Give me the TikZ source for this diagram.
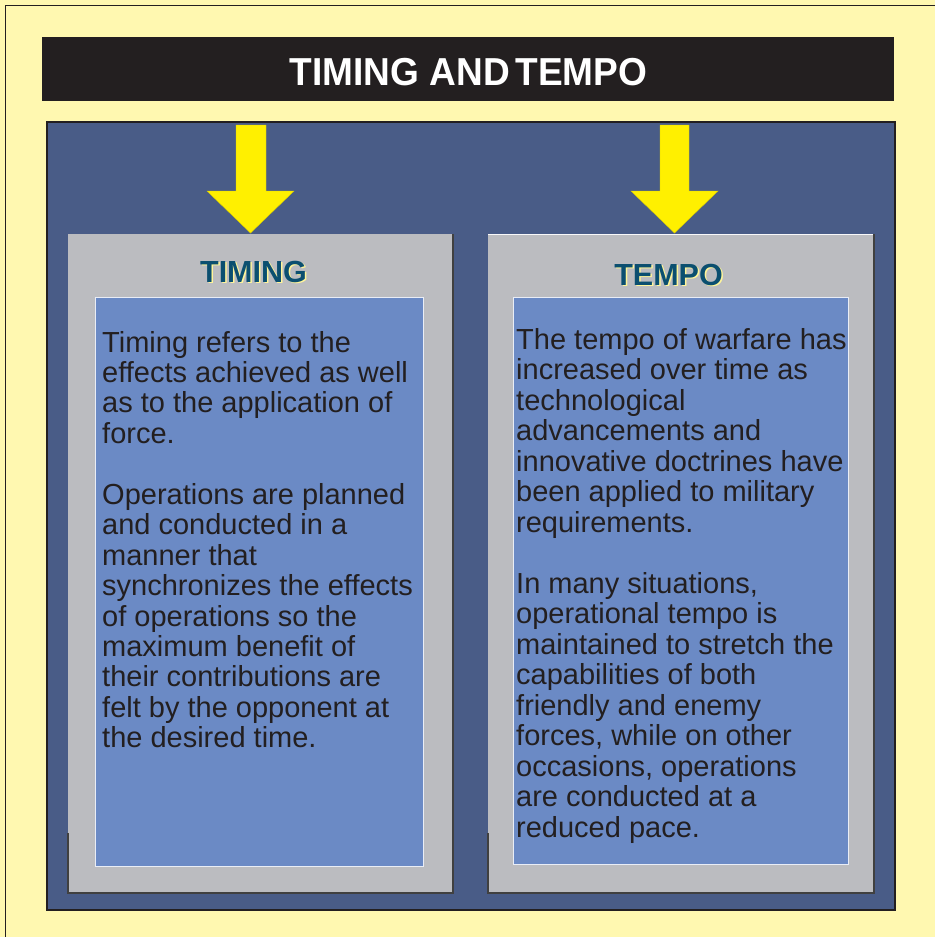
\documentclass[tikz,border=0pt]{standalone}
\usepackage{fontspec}
\setmainfont{Liberation Sans}
\definecolor{bgyellow}{HTML}{FFF8B0}
\definecolor{barblack}{HTML}{231F20}
\definecolor{panelblue}{HTML}{495C87}
\definecolor{boxgray}{HTML}{BBBCC0}
\definecolor{innerblue}{HTML}{6B8AC5}
\definecolor{arrowyellow}{HTML}{FFF000}
\definecolor{headteal}{HTML}{0B4F70}
\definecolor{shadowyellow}{HTML}{FFF59A}
\definecolor{textdark}{HTML}{231F20}
\tikzset{
  bodyline/.style={anchor=base west, inner sep=0pt, text=textdark,
    font=\fontsize{29}{30.5}\selectfont},
  headtext/.style={anchor=base, inner sep=0pt,
    font=\fontsize{30.5}{32}\selectfont\bfseries},
  bigarrow/.style={fill=arrowyellow, draw=arrowyellow!85!black, line width=0.4pt},
  graybox/.style={fill=boxgray},
  innerbox/.style={fill=innerblue, draw=white!85!innerblue, line width=1pt},
}
\begin{document}
\begin{tikzpicture}[x=1pt,y=-1pt]
\useasboundingbox (0,0) rectangle (935,937);
% background
\fill[bgyellow] (0,0) rectangle (935,937);
\draw[barblack, line width=1pt] (5,937) -- (5,5) -- (935,5);
% title bar
\fill[barblack] (42,37) rectangle (894,101);
\node[anchor=base, inner sep=0pt, text=white, xscale=0.95,
  font=\fontsize{39}{40}\selectfont\bfseries] (title) at (468.5,85) {TIMING AND\hspace{-5pt} TEMPO};
% blue panel
\draw[fill=panelblue, draw=barblack, line width=2.2pt] (47,122) rectangle (895,910);
% arrows
\fill[bigarrow] (236,125) -- (266,125) -- (266,191) -- (294,191) -- (250.5,233) -- (207,191) -- (236,191) -- cycle;
\fill[bigarrow] (660,125) -- (689,125) -- (689,191) -- (718,191) -- (674.5,233) -- (631,191) -- (660,191) -- cycle;
% gray boxes
\fill[graybox] (68,234) rectangle (453,893);
\draw[black!75, line width=1.5pt] (453,234) -- (453,893) -- (68,893) -- (68,833);
\fill[graybox] (488,234) rectangle (874,893);
\draw[white!90!boxgray, line width=1pt] (488,234.5) -- (874,234.5);
\draw[black!75, line width=1.5pt] (874,234) -- (874,893) -- (488,893) -- (488,833);
% headings
\node[headtext, text=shadowyellow] (timingsh) at (255,283.5) {TIMING};
\node[headtext, text=headteal] (timing) at (253.5,282) {TIMING};
\node[headtext, text=shadowyellow] (temposh) at (670,286.5) {TEMPO};
\node[headtext, text=headteal] (tempo) at (668.5,285) {TEMPO};
% inner boxes
\draw[innerbox] (95,297) rectangle (423,866);
\draw[innerbox] (513,297) rectangle (848,864);
% left text
\foreach \t [count=\i from 0] in {
  {Timing refers to the},
  {effects achieved as well},
  {as to the application of},
  {force.}}
  \node[bodyline] (l1-\i) at (102,352+30.45*\i) {\t};
\foreach \t [count=\i from 5] in {
  {Operations are planned},
  {and conducted in a},
  {manner that},
  {synchronizes the effects},
  {of operations so the},
  {maximum benefit of},
  {their contributions are},
  {felt by the opponent at},
  {the desired time.}}
  \node[bodyline] (l2-\i) at (102,352+30.45*\i) {\t};
% right text
\foreach \t [count=\i from 0] in {
  {The tempo of warfare has},
  {increased over time as},
  {technological},
  {advancements and},
  {innovative doctrines have},
  {been applied to military},
  {requirements.}}
  \node[bodyline] (r1-\i) at (516,349+30.5*\i) {\t};
\foreach \t [count=\i from 8] in {
  {In many situations,},
  {operational tempo is},
  {maintained to stretch the},
  {capabilities of both},
  {friendly and enemy},
  {forces, while on other},
  {occasions, operations},
  {are conducted at a},
  {reduced pace.}}
  \node[bodyline] (r2-\i) at (516,349+30.5*\i) {\t};
\end{tikzpicture}
\end{document}
